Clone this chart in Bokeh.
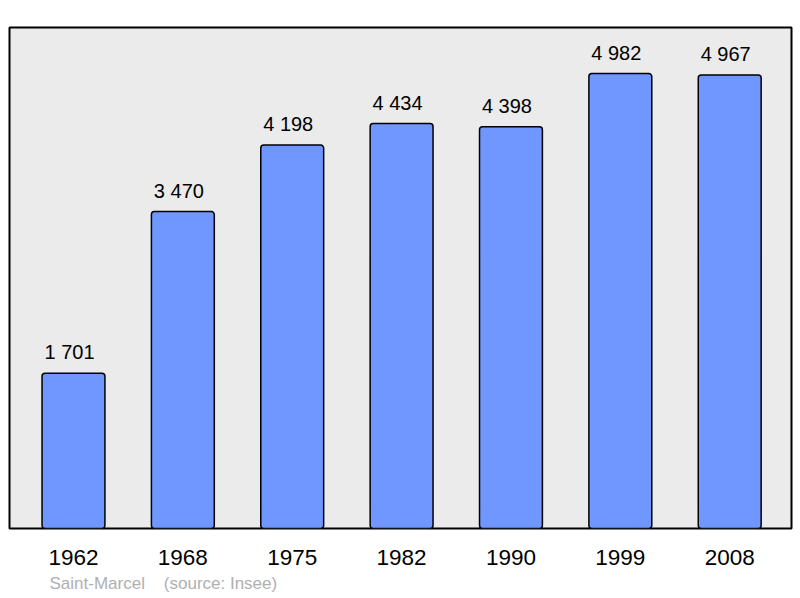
from bokeh.plotting import figure
from bokeh.models import FixedTicker, Range1d, Title, ColumnDataSource
from bokeh.core.properties import value
from bokeh.embed import file_html
from bokeh.resources import INLINE

years = ["1962", "1968", "1975", "1982", "1990", "1999", "2008"]
population = [1701, 3470, 4198, 4434, 4398, 4982, 4967]
value_labels = ["1 701", "3 470", "4 198", "4 434", "4 398", "4 982", "4 967"]
place = "Saint-Marcel"
source_note = "(source: Insee)"

xs = list(range(len(years)))
src = ColumnDataSource(dict(x=xs, top=population, lab=value_labels))

p = figure(width=800, height=598, output_backend="svg", toolbar_location=None,
           x_range=Range1d(-0.585, 6.565), y_range=Range1d(0, 5486),
           min_border_left=9, min_border_right=9, min_border_top=27, min_border_bottom=70)
p.background_fill_color = "#ebebeb"
p.border_fill_color = "white"
p.outline_line_color = "black"
p.outline_line_width = 2
p.grid.visible = False
p.yaxis.visible = False

p.vbar(x="x", top="top", width=0.575, bottom=0, source=src,
       fill_color="#7096ff", line_color="black", line_width=1.5, border_radius=3)
p.text(x="x", y="top", text="lab", source=src, text_align="center",
       text_baseline="alphabetic", y_offset=-21, x_offset=-4,
       text_font=value("Liberation Sans"), text_font_size="20px", text_color="black")

ax = p.xaxis[0]
ax.ticker = FixedTicker(ticks=xs)
ax.major_label_overrides = {i: y for i, y in enumerate(years)}
ax.axis_line_color = None
ax.major_tick_line_color = None
ax.minor_tick_line_color = None
ax.major_tick_out = 0
ax.major_tick_in = 0
ax.major_label_standoff = 21
ax.major_label_text_font = "Liberation Sans"
ax.major_label_text_font_size = "22.5px"
ax.major_label_text_color = "black"

footer = place + "\u00a0\u00a0\u00a0\u00a0" + source_note
p.add_layout(Title(text=footer, align="left", offset=40, standoff=9,
                   text_font="Liberation Sans", text_font_size="17px",
                   text_font_style="normal", text_color="#b0b0b0"), "below")

open("out.html", "w").write(file_html(p, INLINE))
